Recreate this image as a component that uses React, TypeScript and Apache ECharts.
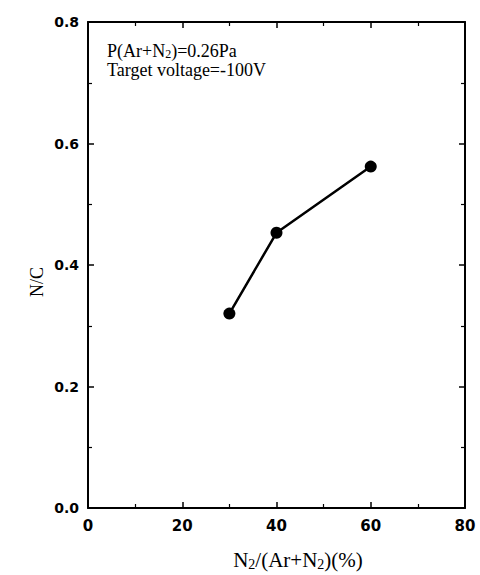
import React, { useEffect, useRef } from "react";
import * as echarts from "echarts";

const xValues = [30, 40, 60];
const nc = [0.32, 0.453, 0.562];
const xTicks = [0, 20, 40, 60, 80];
const yTicks = [0.0, 0.2, 0.4, 0.6, 0.8];
const noteLines = ["P(Ar+N{s|2})=0.26Pa", "Target voltage=-100V"];
const xTitle = "N{s|2}/(Ar+N{s|2})(%)";
const yTitle = "N/C";

const serif = "'Liberation Serif', 'Times New Roman', serif";
const sans = "'DejaVu Sans', Arial, sans-serif";

export default function App() {
  const ref = useRef<HTMLDivElement>(null);
  useEffect(() => {
    const chart = echarts.init(ref.current!, null, { renderer: "svg" });
    const tickStyle = { show: true, inside: true, length: 6, lineStyle: { color: "#000", width: 1.5 } };
    const minorStyle = { show: true, splitNumber: 2, length: 4, lineStyle: { color: "#000", width: 1.2 } };
    const lineStyle = { show: true, onZero: false, lineStyle: { color: "#000", width: 2 } };
    const labelStyle = { fontFamily: sans, fontWeight: "bold" as const, fontSize: 15, color: "#000" };
    chart.setOption({
      animation: false,
      backgroundColor: "#fff",
      grid: { left: 88, right: 15, top: 22, bottom: 67 },
      xAxis: [
        {
          type: "value", min: 0, max: 80, interval: 20,
          axisLine: lineStyle, axisTick: tickStyle, minorTick: minorStyle,
          splitLine: { show: false },
          axisLabel: { ...labelStyle, margin: 10, formatter: (v: number) => (xTicks.includes(v) ? String(v) : "") },
        },
        {
          type: "value", position: "top", min: 0, max: 80, interval: 20,
          axisLine: lineStyle, axisTick: tickStyle, minorTick: minorStyle,
          splitLine: { show: false }, axisLabel: { show: false },
        },
      ],
      yAxis: [
        {
          type: "value", min: 0, max: 0.8, interval: 0.2,
          axisLine: lineStyle, axisTick: tickStyle, minorTick: minorStyle,
          splitLine: { show: false },
          axisLabel: { ...labelStyle, fontSize: 14, margin: 9, padding: [0, 0, 5, 0], formatter: (v: number) => {
            const t = yTicks.find((y) => Math.abs(y - v) < 1e-6);
            return t === undefined ? "" : t.toFixed(1);
          } },
        },
        {
          type: "value", position: "right", min: 0, max: 0.8, interval: 0.2,
          axisLine: lineStyle, axisTick: tickStyle, minorTick: minorStyle,
          splitLine: { show: false }, axisLabel: { show: false },
        },
      ],
      series: [
        {
          type: "line",
          data: xValues.map((x, i) => [x, nc[i]]),
          symbol: "circle",
          symbolSize: 12,
          lineStyle: { color: "#000", width: 2.5 },
          itemStyle: { color: "#000" },
        },
      ],
      graphic: [
        {
          type: "text", left: 107, top: 41,
          style: {
            text: noteLines.join("\n"),
            fontFamily: serif, fontSize: 18, fill: "#000",
            lineHeight: 19,
            rich: { s: { fontFamily: serif, fontSize: 12, fill: "#000", lineHeight: 19, padding: [7, 0, 0, 0] } },
          },
        },
        {
          type: "text", x: 298, y: 560,
          style: {
            text: xTitle, fontFamily: serif, fontSize: 21, fill: "#000",
            align: "center", verticalAlign: "middle",
            rich: { s: { fontFamily: serif, fontSize: 14, fill: "#000", padding: [8, 0, 0, 0] } },
          },
        },
        {
          type: "text", x: 37, y: 282, rotation: Math.PI / 2,
          style: {
            text: yTitle, fontFamily: serif, fontSize: 18, fill: "#000",
            align: "center", verticalAlign: "middle",
          },
        },
      ],
    });
    return () => chart.dispose();
  }, []);
  return (
    <div
      ref={ref}
      style={{ position: "absolute", left: 0, top: 0, width: 480, height: 575 }}
    />
  );
}
